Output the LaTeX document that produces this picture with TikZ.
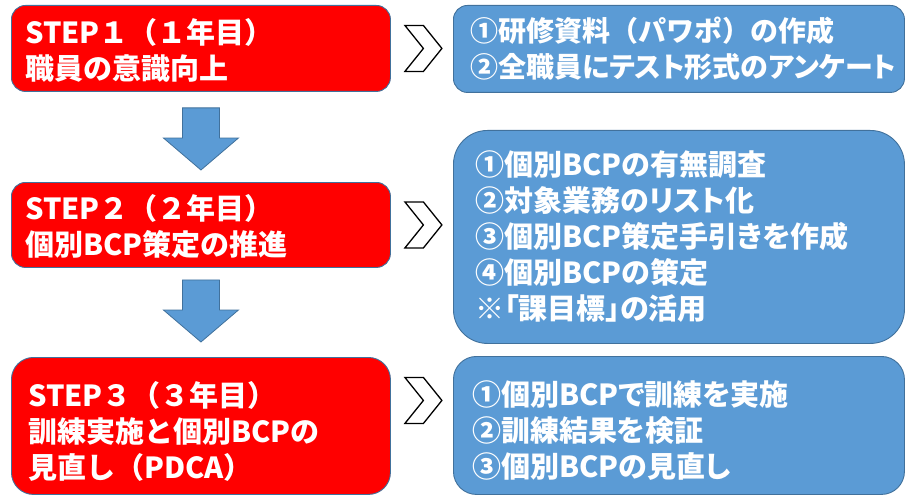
\documentclass[tikz,border=0pt]{standalone}
\usepackage{fontspec}
\setmainfont{Noto Sans CJK JP}
\newfontfamily\jpp[RawFeature=+palt]{Noto Sans CJK JP}
\usetikzlibrary{calc}
\definecolor{boxred}{HTML}{FF0000}
\definecolor{boxblue}{HTML}{5B9BD5}
\definecolor{edgeblue}{HTML}{41719C}
\begin{document}
\begin{tikzpicture}[x=1pt,y=-1pt,
  redbox/.style={draw=edgeblue, line width=0.9pt, fill=boxred, rounded corners=#1, inner sep=0pt, anchor=north west},
  bluebox/.style={draw=edgeblue, line width=0.9pt, fill=boxblue, rounded corners=#1, inner sep=0pt, anchor=north west},
  boxtext/.style={text=white, font=\bfseries\fontsize{29}{36}\selectfont, align=left, inner sep=0pt, anchor=west},
  smalltext/.style={boxtext, font=\bfseries\fontsize{28}{36}\selectfont},
  blockarrow/.style={draw=edgeblue, line width=0.8pt, fill=boxblue, line join=miter},
  chevron/.style={draw=black, line width=1.3pt, fill=white, line join=miter}
]
\useasboundingbox (0,0) rectangle (906,495);

% left red boxes
\node[redbox=14pt, minimum width=379pt, minimum height=86pt] (r1) at (11,5) {};
\node[redbox=14pt, minimum width=379pt, minimum height=85pt] (r2) at (11,182) {};
\node[redbox=22pt, minimum width=379pt, minimum height=137pt] (r3) at (11,357) {};

% right blue boxes
\node[bluebox=14pt, minimum width=451pt, minimum height=87pt] (b1) at (453,5) {};
\node[bluebox=34pt, minimum width=451pt, minimum height=213pt] (b2) at (453,130) {};
\node[bluebox=23pt, minimum width=451pt, minimum height=138pt] (b3) at (453,356) {};

% texts
\node[boxtext] (t1) at ($(r1.west)+(14,2)$) {STEP１（１年目）\\職員の意識向上};
\node[boxtext] (t2) at ($(r2.west)+(14,1.5)$) {STEP２（２年目）\\個別BCP策定の推進};
\node[boxtext] (t3) at ($(r3.west)+(17,5.5)$) {STEP３（３年目）\\訓練実施と個別BCPの\\見直し（PDCA）};

\node[smalltext] (u1) at ($(b1.west)+(17,0)$) {①研修資料（パワポ）の作成\\{\jpp ②全職員にテスト形式のアンケート}};
\node[boxtext] (u2) at ($(b2.west)+(22,0)$) {\jpp ①個別BCPの有無調査\\\jpp ②対象業務のリスト化\\\jpp ③個別BCP策定手引きを作成\\\jpp ④個別BCPの策定\\\jpp ※「課目標」の活用};
\node[boxtext] (u3) at ($(b3.west)+(19,5)$) {\jpp ①個別BCPで訓練を実施\\\jpp ②訓練結果を検証\\\jpp ③個別BCPの見直し};

% block arrows between steps
\coordinate (a1s) at ($(r1.south)+(0,16)$);
\coordinate (a1t) at ($(r2.north)+(0,-12)$);
\draw[blockarrow] ($(a1s)+(-18.5,0)$) -- ($(a1s)+(18.5,0)$) -- ($(a1t)+(18.5,-32)$) -- ($(a1t)+(37.5,-32)$) -- (a1t) -- ($(a1t)+(-37.5,-32)$) -- ($(a1t)+(-18.5,-32)$) -- cycle;
\coordinate (a2s) at ($(r2.south)+(0,12)$);
\coordinate (a2t) at ($(r3.north)+(0,-15)$);
\draw[blockarrow] ($(a2s)+(-18.5,0)$) -- ($(a2s)+(18.5,0)$) -- ($(a2t)+(18.5,-32)$) -- ($(a2t)+(37.5,-32)$) -- (a2t) -- ($(a2t)+(-37.5,-32)$) -- ($(a2t)+(-18.5,-32)$) -- cycle;

% chevrons
\coordinate (c1) at ($(r1.east)+(14,0)$);
\coordinate (c2) at ($(r2.east)+(14,0)$);
\coordinate (c3) at ($(r3.east)+(14,-25.5)$);
\foreach \c in {c1,c2,c3}{
  \draw[chevron, shift={(\c)}] (0,-23) -- (18.5,-23) -- (37,0) -- (18.5,23) -- (0,23) -- (18.5,0) -- cycle;
}
\end{tikzpicture}
\end{document}
